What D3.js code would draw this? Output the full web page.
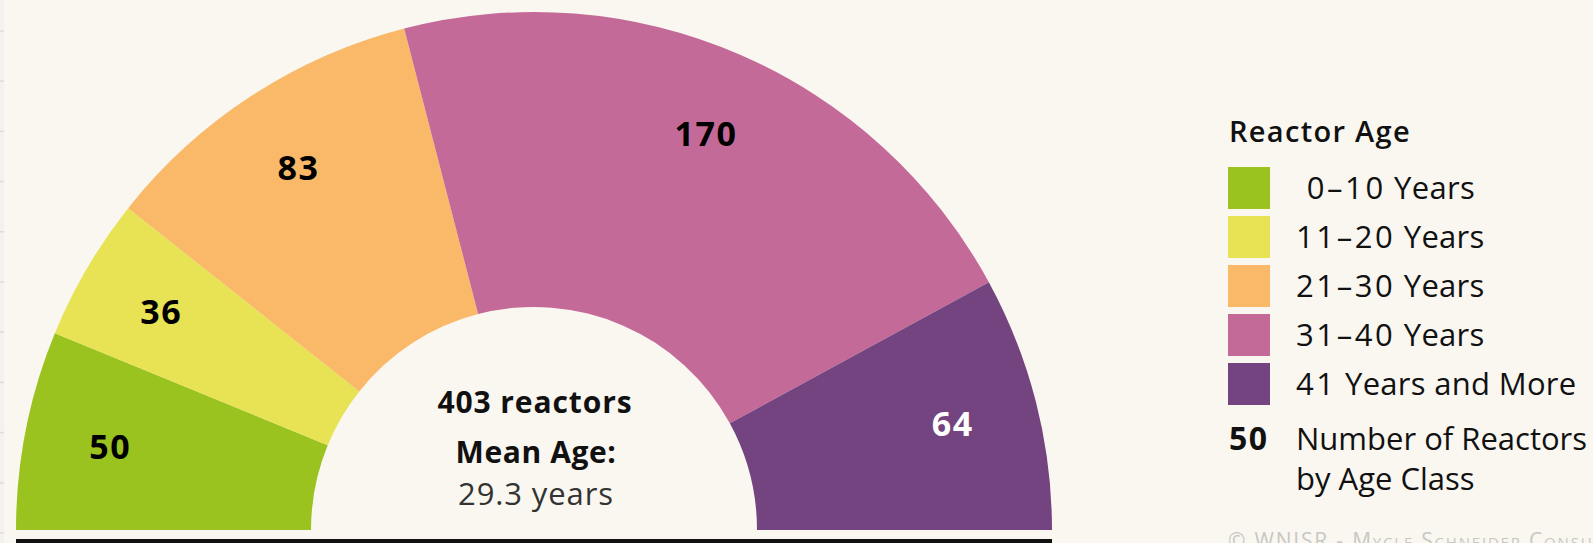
<!DOCTYPE html>
<html>
<head>
<meta charset="utf-8">
<script src="https://cdn.jsdelivr.net/npm/d3@7"></script>
<style>
  html, body { margin: 0; padding: 0; background: #faf7f1; overflow: hidden; }
  svg { display: block; }
  text { font-family: "Open Sans", "Noto Sans", sans-serif; white-space: pre; }
</style>
</head>
<body>
<svg id="chart" width="1593" height="543"></svg>
<script>
// Reactor age classes and number of reactors in each class
const ageClasses = ["0–10 Years", "11–20 Years", "21–30 Years", "31–40 Years", "41 Years and More"];
const ageRanges = [" 0–10", "11–20", "21–30", "31–40", "41"];
const rangeSuffixes = [" Years", " Years", " Years", " Years", " Years and More"];
const reactorCounts = [50, 36, 83, 170, 64];
const classColors = ["#9bc31f", "#e7e354", "#f9b968", "#c46a98", "#744480"];
const labelColors = ["#000", "#000", "#000", "#000", "#fff"];
const meanAge = 29.3;

const W = 1593, H = 543;
const svg = d3.select("#chart");
const bg = "#faf7f1";

svg.append("rect").attr("width", W).attr("height", H).attr("fill", bg);

// faint left margin strip with ticks from the neighbouring panel
svg.append("rect").attr("x", 0).attr("y", 0).attr("width", 4).attr("height", H).attr("fill", "#f3f2ef");
svg.append("g").selectAll("line")
  .data(d3.range(31, 540, 50.2))
  .join("line")
  .attr("x1", 0).attr("x2", 4)
  .attr("y1", d => d).attr("y2", d => d)
  .attr("stroke", "#dcdcdc").attr("stroke-width", 1.5);

const data = ageClasses.map((c, i) => ({ cls: c, count: reactorCounts[i] }));
const total = d3.sum(reactorCounts);

const color = d3.scaleOrdinal(ageClasses, classColors);
const labelColor = d3.scaleOrdinal(ageClasses, labelColors);

const cx = 534, cy = 530;
const outerR = 518, innerR = 223, labelR = 432;

const pie = d3.pie()
  .value(d => d.count)
  .sort(null)
  .startAngle(-Math.PI / 2)
  .endAngle(Math.PI / 2);

const arc = d3.arc().innerRadius(innerR).outerRadius(outerR);
const labelArc = d3.arc().innerRadius(labelR).outerRadius(labelR);

const g = svg.append("g").attr("transform", `translate(${cx},${cy})`);
const arcs = pie(data);

g.selectAll("path.slice")
  .data(arcs)
  .join("path")
  .attr("class", "slice")
  .attr("d", arc)
  .attr("fill", d => color(d.data.cls));

g.selectAll("text.count")
  .data(arcs)
  .join("text")
  .attr("class", "count")
  .attr("transform", d => `translate(${labelArc.centroid(d)})`)
  .attr("text-anchor", "middle")
  .attr("dy", "0.36em")
  .attr("font-size", 34)
  .attr("font-weight", 700)
  .attr("letter-spacing", 1.5)
  .attr("fill", d => labelColor(d.data.cls))
  .text(d => d.data.count);

// centre summary
const centre = svg.append("g").attr("text-anchor", "middle");
centre.append("text")
  .attr("x", cx + 1).attr("y", 413)
  .attr("font-size", 30).attr("font-weight", 700).attr("fill", "#111")
  .attr("letter-spacing", 0.9)
  .text(`${total} reactors`);
centre.append("text")
  .attr("x", cx + 2).attr("y", 463)
  .attr("font-size", 30).attr("font-weight", 700).attr("fill", "#111")
  .attr("letter-spacing", 0.6)
  .text("Mean Age:");
centre.append("text")
  .attr("x", cx + 2).attr("y", 505)
  .attr("font-size", 31).attr("font-weight", 400).attr("fill", "#333")
  .attr("letter-spacing", 0.9)
  .text(`${meanAge} years`);

// base line under the semicircle
svg.append("rect")
  .attr("x", cx - outerR).attr("y", 539)
  .attr("width", outerR * 2).attr("height", 8)
  .attr("fill", "#111");

// legend
const lg = svg.append("g").attr("transform", "translate(1228,0)");
lg.append("text")
  .attr("x", 1).attr("y", 142)
  .attr("font-size", 29).attr("font-weight", 600).attr("fill", "#111")
  .attr("letter-spacing", 1.3)
  .text("Reactor Age");

const rowY = d3.scaleBand().domain(ageClasses).range([167, 167 + 49 * 5]);

const rows = lg.selectAll("g.row")
  .data(ageClasses)
  .join("g")
  .attr("class", "row")
  .attr("transform", d => `translate(0,${rowY(d)})`);
rows.append("rect")
  .attr("width", 42).attr("height", 42)
  .attr("fill", d => color(d));
const rowText = rows.append("text")
  .attr("x", 68).attr("y", 32)
  .attr("font-size", 31).attr("fill", "#111");
rowText.append("tspan")
  .attr("letter-spacing", 2.6)
  .text((d, i) => ageRanges[i]);
rowText.append("tspan")
  .attr("letter-spacing", 0.3)
  .text((d, i) => rangeSuffixes[i]);

lg.append("text")
  .attr("x", 1).attr("y", 450)
  .attr("font-size", 32).attr("font-weight", 700).attr("fill", "#111")
  .attr("letter-spacing", 1.5)
  .text(reactorCounts[0]);
lg.append("text")
  .attr("x", 68).attr("y", 450)
  .attr("font-size", 31).attr("fill", "#111")
  .attr("letter-spacing", 0)
  .text("Number of Reactors");
lg.append("text")
  .attr("x", 68).attr("y", 490)
  .attr("font-size", 31).attr("fill", "#111")
  .attr("letter-spacing", 0)
  .text("by Age Class");

// credit line
lg.append("text")
  .attr("x", 0).attr("y", 548)
  .attr("font-size", 21).attr("fill", "#c9c7c3")
  .attr("font-variant", "small-caps")
  .attr("letter-spacing", 1.8)
  .text("© WNISR - Mycle Schneider Consulting");
</script>
</body>
</html>
